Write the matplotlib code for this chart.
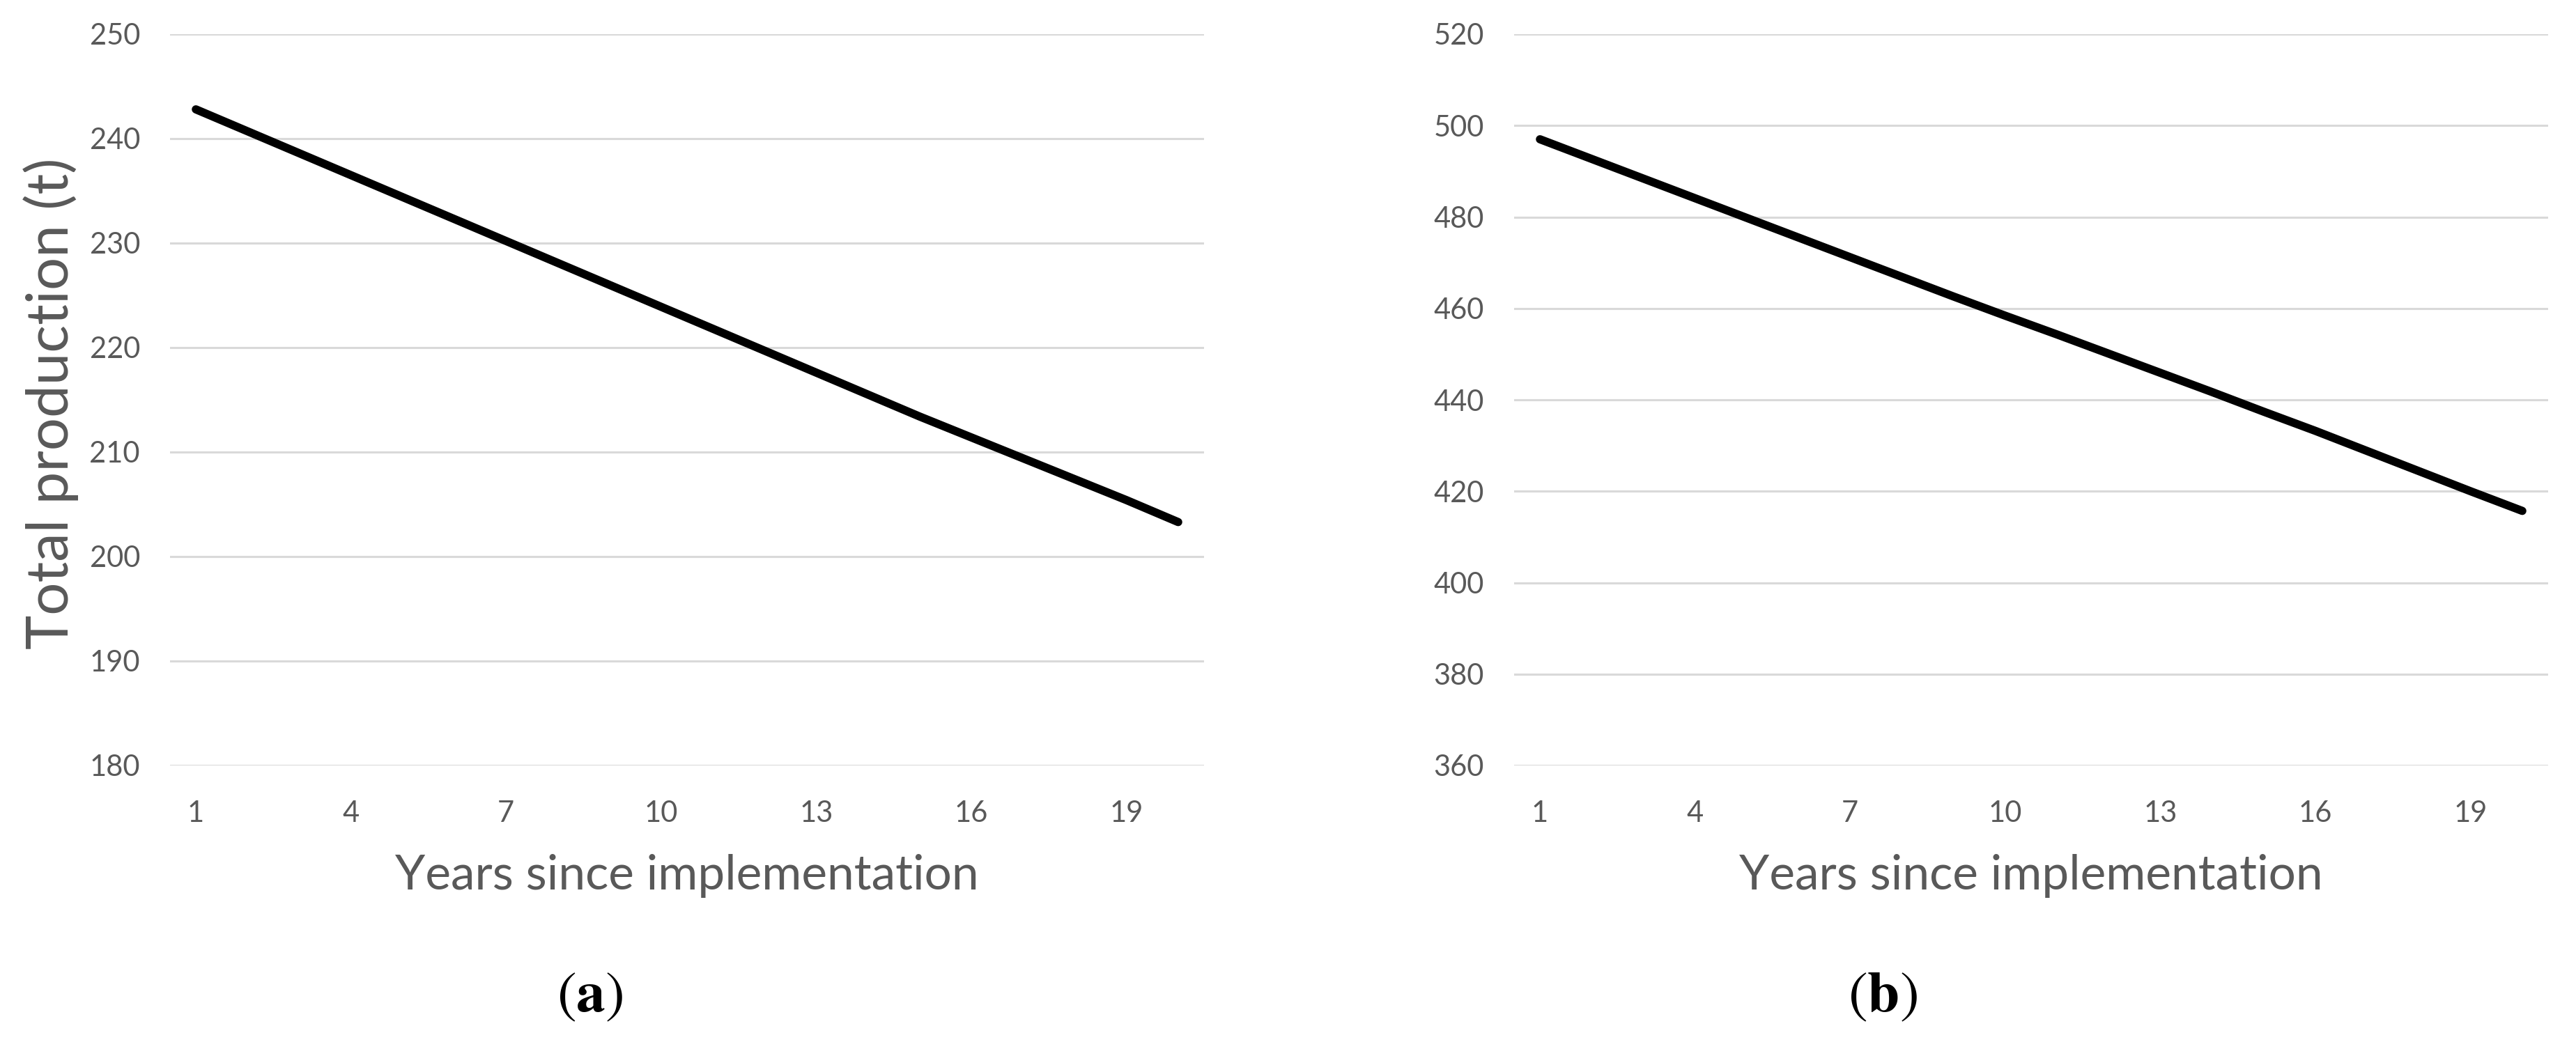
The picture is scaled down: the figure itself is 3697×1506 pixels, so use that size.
import numpy as np
import matplotlib
matplotlib.use("Agg")
import matplotlib.pyplot as plt

plt.rcParams['font.family'] = ['Lato', 'DejaVu Sans']
plt.rcParams['mathtext.fontset'] = 'stix'

# data
years = list(range(1, 21))
prod_a = [242.8, 240.7, 238.6, 236.5, 234.4, 232.3, 230.2, 228.1, 226.0, 223.9,
          221.8, 219.7, 217.6, 215.5, 213.4, 211.4, 209.4, 207.4, 205.4, 203.3]
prod_b = [497.0, 492.7, 488.4, 484.1, 479.8, 475.5, 471.2, 466.9, 462.6, 458.4,
          454.3, 450.1, 445.9, 441.7, 437.4, 433.2, 428.8, 424.4, 420.0, 415.7]
xticks = [1, 4, 7, 10, 13, 16, 19]
yticks_a = [180, 190, 200, 210, 220, 230, 240, 250]
yticks_b = [360, 380, 400, 420, 440, 460, 480, 500, 520]

W, H = 3698, 1506
fig = plt.figure(figsize=(W / 100, H / 100), dpi=100)

grid_col = '#D9D9D9'
txt_col = '#595959'


def make_panel(left, vals, yticks, tag, xtag):
    ax = fig.add_axes([left / W, 1 - 1099 / H, 1484 / W, 1050 / H])
    ax.plot(years, vals, color='black', lw=8.5, solid_capstyle='round', zorder=3)
    ax.set_xlim(0.5, 20.5)
    ax.set_ylim(yticks[0], yticks[-1])
    ax.set_yticks(yticks)
    ax.set_xticks(xticks)
    ax.grid(axis='y', color=grid_col, lw=2.2)
    ax.set_axisbelow(True)
    for s in ax.spines.values():
        s.set_visible(False)
    ax.tick_params(length=0, labelsize=30, labelcolor=txt_col)
    ax.tick_params(axis='y', pad=31)
    ax.tick_params(axis='x', pad=36)
    ax.set_xlabel('Years since implementation', fontsize=50, color=txt_col,
                  labelpad=28)
    fig.text(xtag / W, 1 - 1431 / H, r'$\mathrm{(}\mathbf{' + tag + r'}\mathrm{)}$',
             fontsize=60, ha='center', va='center', color='black')
    return ax


ax1 = make_panel(244, prod_a, yticks_a, 'a', 847)
ax1.set_ylabel('Total production (t)', fontsize=60, color=txt_col)
ax1.yaxis.set_label_coords(-0.088, 0.495)

ax2 = make_panel(2173, prod_b, yticks_b, 'b', 2702)

fig.savefig('out.png', dpi=100, facecolor='white')
